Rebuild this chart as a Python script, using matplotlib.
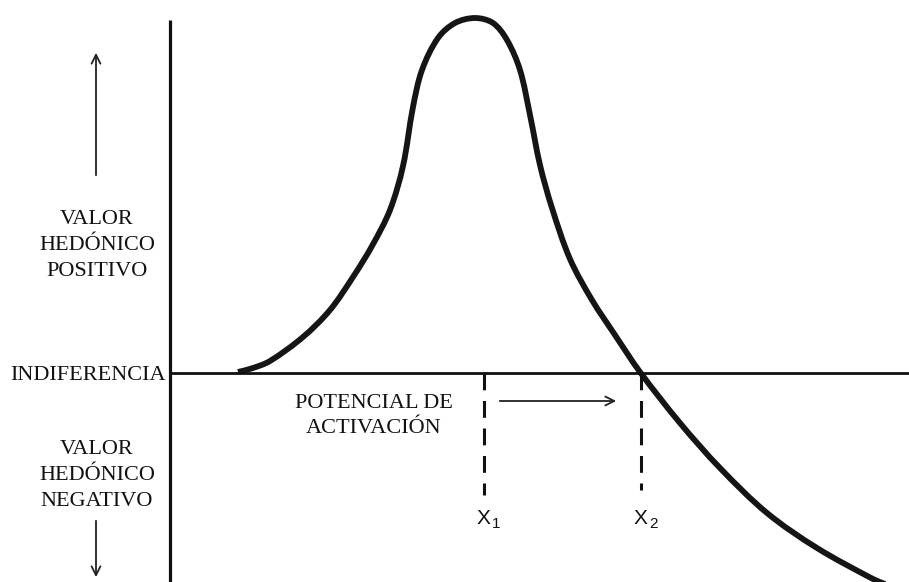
import numpy as np
import matplotlib.pyplot as plt
from matplotlib.path import Path
from matplotlib.patches import PathPatch

# Wundt curve: hedonic value against activation potential
# (x in arbitrary units, y relative to the indifference line)
curve_x = [238, 253, 270, 303, 330, 353, 372, 390, 403, 413, 422, 438, 455,
           475, 493, 507, 520, 530, 540, 552, 570, 592, 615, 640, 680, 720,
           767, 817, 873, 885]
curve_y = [1, 5, 12, 36, 63, 96, 127, 163, 207, 266, 303, 335, 350,
           355, 350, 333, 303, 258, 208, 165, 114, 73, 38, 1, -50, -95,
           -140, -175, -206, -211]

x_marks = [484, 641]           # X1, X2
x_mark_names = ["1", "2"]


def smooth_path(xs, ys):
    """Chord-length Catmull-Rom through the points as cubic Bezier segments."""
    p = np.column_stack([xs, ys]).astype(float)
    d = np.linalg.norm(np.diff(p, axis=0), axis=1)
    tan = np.zeros_like(p)
    tan[1:-1] = (p[2:] - p[:-2]) / (d[:-1] + d[1:])[:, None]
    tan[0] = (p[1] - p[0]) / d[0]
    tan[-1] = (p[-1] - p[-2]) / d[-1]
    verts, codes = [p[0]], [Path.MOVETO]
    for i in range(len(p) - 1):
        verts += [p[i] + tan[i] * d[i] / 3, p[i + 1] - tan[i + 1] * d[i] / 3,
                  p[i + 1]]
        codes += [Path.CURVE4] * 3
    return Path(verts, codes)


fig = plt.figure(figsize=(9.09, 5.82), dpi=100)
ax = fig.add_axes([0, 0, 1, 1])
ax.set_xlim(0, 909)
ax.set_ylim(-209, 373)
ax.axis("off")

ink = "#111111"
serif = {"family": "Liberation Serif", "size": 16, "color": ink}
sans = {"family": "Liberation Sans", "size": 15, "color": ink}

# axes
ax.plot([170, 170], [-209, 353], color=ink, lw=2.3, solid_capstyle="butt")
ax.plot([170, 909], [0, 0], color=ink, lw=2.0)

# curve
ax.add_patch(PathPatch(smooth_path(curve_x, curve_y), fill=False,
                       edgecolor="#151515", lw=4.2, capstyle="butt"))

# dashed drops at X1, X2
for xm, yb, name in zip(x_marks, [-122, -117], x_mark_names):
    ax.plot([xm, xm], [0, yb], color=ink, lw=2.2, dashes=(5.5, 3.5))
    ax.text(xm - 1, -145, "X", ha="center", va="center", **sans)
    ax.text(xm + 12, -151, name, ha="center", va="center",
            family="Liberation Sans", size=11, color=ink)

# arrows
arr = dict(arrowstyle="->", color="#222", lw=1.3, mutation_scale=16)
ax.annotate("", xy=(96, 323), xytext=(96, 195), arrowprops=arr)
ax.annotate("", xy=(96, -207), xytext=(96, -145), arrowprops=arr)
ax.annotate("", xy=(619, -28), xytext=(497, -28), arrowprops=arr)

# labels
ax.text(97, 127, "VALOR\nHEDÓNICO\nPOSITIVO", ha="center", va="center",
        linespacing=1.5, **serif)
ax.text(97, -102, "VALOR\nHEDÓNICO\nNEGATIVO", ha="center", va="center",
        linespacing=1.5, **serif)
ax.text(166, -2, "INDIFERENCIA", ha="right", va="center", **serif)
ax.text(374, -43, "POTENCIAL DE\nACTIVACIÓN", ha="center", va="center",
        linespacing=1.4, **serif)

fig.savefig("out.png", dpi=100, facecolor="white")
